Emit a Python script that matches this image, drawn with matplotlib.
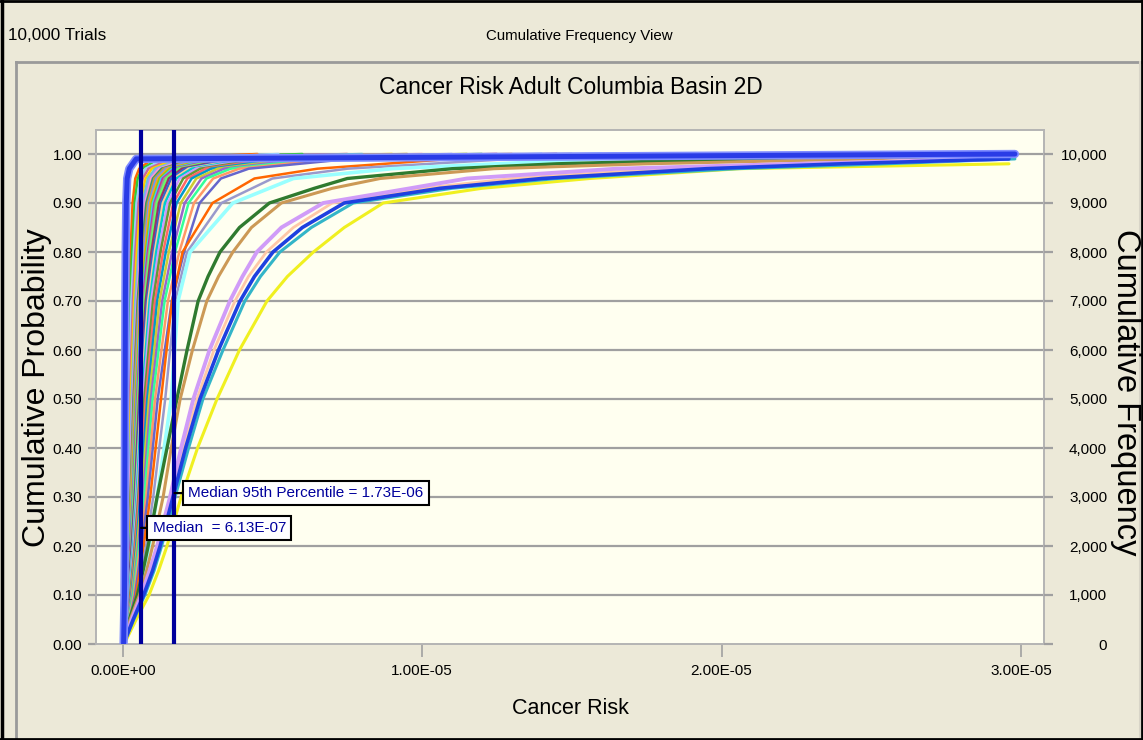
import numpy as np
import matplotlib
matplotlib.use("Agg")
import matplotlib.pyplot as plt
from matplotlib.lines import Line2D

W, H, DPI = 1143, 740, 100

# ---------------------------------------------------------------- data
TRIALS = 10000
MEDIAN = 6.13e-07
P95_MEDIAN = 1.73e-06
SCALE = 1e-6  # risk values below are in units of 1E-06
nan = float("nan")

# cumulative probability levels for the bundle of iterations
PROB_LEVELS = [0.0, 0.1, 0.2, 0.3, 0.5, 0.7, 0.8, 0.9, 0.95, 0.97, 0.99, 1.0]

# risk at each cumulative probability level, one row per uncertainty iteration
bundle_curves = [
    [0.01, 0.05, 0.08, 0.11, 0.15, 0.21, 0.26, 0.33, 0.42, 0.55, 1.0, 4.5],
    [0.01, 0.06, 0.10, 0.13, 0.18, 0.25, 0.31, 0.40, 0.50, 0.65, 1.2, 6.0],
    [0.02, 0.07, 0.12, 0.15, 0.21, 0.29, 0.37, 0.46, 0.59, 0.76, 1.4, 5.2],
    [0.02, 0.08, 0.13, 0.17, 0.24, 0.34, 0.42, 0.53, 0.67, 0.86, 1.6, 7.5],
    [0.02, 0.09, 0.15, 0.19, 0.27, 0.38, 0.47, 0.59, 0.76, 0.97, 1.8, 9.0],
    [0.02, 0.10, 0.17, 0.22, 0.30, 0.42, 0.53, 0.66, 0.84, 1.08, 2.0, 8.0],
    [0.02, 0.11, 0.18, 0.23, 0.32, 0.45, 0.56, 0.70, 0.90, 1.15, 2.1, 11.0],
    [0.02, 0.12, 0.19, 0.24, 0.34, 0.48, 0.60, 0.75, 0.95, 1.22, 2.2, 10.0],
    [0.02, 0.13, 0.20, 0.26, 0.36, 0.50, 0.63, 0.79, 1.01, 1.30, 2.4, 12.0],
    [0.02, 0.13, 0.21, 0.27, 0.38, 0.53, 0.67, 0.84, 1.06, 1.37, 2.5, 9.5],
    [0.03, 0.14, 0.22, 0.29, 0.40, 0.56, 0.70, 0.88, 1.12, 1.44, 2.6, 14.0],
    [0.03, 0.15, 0.23, 0.30, 0.42, 0.59, 0.74, 0.92, 1.18, 1.51, 2.8, 13.0],
    [0.03, 0.15, 0.24, 0.32, 0.44, 0.62, 0.77, 0.97, 1.23, 1.58, 2.9, 11.5],
    [0.03, 0.16, 0.25, 0.33, 0.46, 0.64, 0.81, 1.01, 1.29, 1.66, 3.0, 16.0],
    [0.03, 0.17, 0.26, 0.35, 0.48, 0.67, 0.84, 1.06, 1.34, 1.73, 3.2, 12.5],
    [0.03, 0.18, 0.28, 0.36, 0.50, 0.70, 0.88, 1.10, 1.40, 1.80, 3.3, 15.0],
    [0.03, 0.18, 0.29, 0.37, 0.52, 0.73, 0.91, 1.14, 1.46, 1.87, 3.4, 18.0],
    [0.03, 0.19, 0.30, 0.40, 0.55, 0.77, 0.96, 1.21, 1.54, 1.98, 3.6, 14.5],
    [0.04, 0.20, 0.32, 0.42, 0.58, 0.81, 1.02, 1.28, 1.62, 2.09, 3.8, 17.0],
    [0.04, 0.21, 0.34, 0.44, 0.61, 0.85, 1.07, 1.34, 1.71, 2.20, 4.0, 20.0],
    [0.04, 0.22, 0.35, 0.46, 0.64, 0.90, 1.12, 1.41, 1.79, 2.30, 4.2, 16.5],
    [0.04, 0.24, 0.37, 0.49, 0.68, 0.95, 1.19, 1.50, 1.90, 2.45, 4.4, 19.0],
    [0.04, 0.25, 0.40, 0.52, 0.72, 1.01, 1.26, 1.58, 2.02, 2.59, 4.7, 22.0],
    [0.04, 0.27, 0.42, 0.55, 0.77, 1.08, 1.35, 1.69, 2.16, 2.77, 5.0, 18.5],
    [0.05, 0.29, 0.45, 0.59, 0.82, 1.15, 1.44, 1.80, 2.30, 2.95, 5.3, 24.0],
    [0.05, 0.31, 0.48, 0.63, 0.88, 1.23, 1.54, 1.94, 2.46, 3.17, 5.7, 21.0],
    [0.05, 0.33, 0.52, 0.68, 0.94, 1.32, 1.65, 2.07, 2.63, 3.38, 6.1, 26.0],
    [0.05, 0.35, 0.55, 0.72, 1.00, 1.40, 1.75, 2.20, 2.80, 3.60, 6.5, 23.0],
    [0.05, 0.38, 0.59, 0.78, 1.08, 1.51, 1.89, 2.38, 3.02, 3.89, 7.0, 27.0],
    [0.06, 0.41, 0.64, 0.84, 1.17, 1.64, 2.05, 2.57, 3.28, 4.21, 7.6, 25.0],
    [0.06, 0.45, 0.70, 0.92, 1.28, 1.65, 2.00, 3.00, 4.40, 6.50, 11.0, 27.0],
    [0.06, 0.50, 0.78, 1.02, 1.42, 1.75, 2.15, 3.30, 5.00, 7.50, 13.0, 28.0],
    [0.07, 0.56, 0.88, 1.15, 1.62, 1.85, 2.25, 3.68, 5.70, 9.00, 16.0, 29.0],
]
bundle_colors = [
    "#FF6600", "#33CC33", "#99CCFF", "#CC6699", "#FFCC00", "#66CCCC",
    "#9999FF", "#FF99CC", "#339966", "#CC9933", "#6699FF", "#FF9933",
    "#99CC00", "#33CCFF", "#CC3399", "#999999", "#66FF66", "#993366",
    "#3366CC", "#FFCC99", "#00CCCC", "#CC99FF", "#669933", "#FF6666",
    "#0099CC", "#CCCC33", "#9966CC", "#33FF99", "#FF9966", "#6666CC",
    "#FF6600", "#9999CC", "#99FFFF",
]
lowest_curve = [0.03, 0.06, 0.07, 0.07, 0.08, 0.09, 0.10, 0.12, 0.15, 0.22, 0.45, 29.8]

# finer probability levels for the widest iterations
WIDE_LEVELS = [0.0, 0.05, 0.1, 0.15, 0.2, 0.3, 0.4, 0.5, 0.6, 0.7, 0.75, 0.8,
               0.85, 0.9, 0.93, 0.95, 0.97, 0.98, 0.99, 1.0]
green_curve = [0.02, 0.22, 0.49, 0.68, 0.85, 1.15, 1.48, 1.81, 2.15, 2.52, 2.85,
               3.25, 3.9, 4.9, 6.4, 7.5, 11.0, 14.5, 21.0, 28.0]
tan_curve = [0.02, 0.25, 0.56, 0.80, 1.00, 1.35, 1.62, 1.92, 2.33, 2.81, 3.20,
             3.68, 4.3, 5.3, 7.0, 8.6, 12.4, 17.5, 25.0, 29.5]
violet_curve = [0.03, 0.30, 0.62, 0.90, 1.15, 1.58, 1.95, 2.36, 2.90, 3.58, 4.00,
                4.48, 5.3, 6.7, 9.6, 11.5, 16.5, 22.5, 29.5, nan]
pink_curve = [0.03, 0.33, 0.66, 0.95, 1.20, 1.62, 2.02, 2.48, 3.05, 3.75, 4.20,
              4.80, 5.7, 7.0, 10.0, 13.0, 18.0, 22.5, 29.0, nan]
blue_curve = [0.03, 0.35, 0.70, 1.00, 1.25, 1.68, 2.10, 2.58, 3.20, 3.92, 4.40,
              5.02, 6.0, 7.4, 10.6, 14.0, 19.5, 24.0, 29.6, nan]
teal_curve = [0.03, 0.37, 0.74, 1.05, 1.30, 1.75, 2.20, 2.68, 3.35, 4.08, 4.60,
              5.25, 6.3, 7.7, 11.0, 14.5, 20.5, 25.5, 29.8, nan]
yellow_curve = [0.05, 0.45, 0.88, 1.20, 1.48, 1.95, 2.50, 3.15, 3.90, 4.82, 5.50,
                6.37, 7.4, 8.7, 12.0, 15.6, 20.6, 29.6, nan, nan]

X_TICKS = [0.0, 1e-05, 2e-05, 3e-05]
Y_TICKS = [0.0, 0.1, 0.2, 0.3, 0.4, 0.5, 0.6, 0.7, 0.8, 0.9, 1.0]
FREQ_TICKS = [0, 1000, 2000, 3000, 4000, 5000, 6000, 7000, 8000, 9000, 10000]

# ---------------------------------------------------------------- style
plt.rcParams["font.family"] = ["Liberation Sans", "DejaVu Sans"]
BG = "#ECE9D8"
PLOT_BG = "#FFFFF0"
GRID = "#A0A0A0"
NAVY = "#00009C"

fig = plt.figure(figsize=(W / DPI, H / DPI), dpi=DPI, facecolor=BG)


def fx(px):
    return px / W


def fy(py):
    return 1 - py / H


# window frame
def frame_line(x0, y0, x1, y1, color, lw):
    fig.add_artist(Line2D([fx(x0), fx(x1)], [fy(y0), fy(y1)],
                          transform=fig.transFigure, color=color, lw=lw))


frame_line(16, 62, 1143, 62, "#9A9A9A", 2.0)
frame_line(16, 62, 16, 740, "#9A9A9A", 2.0)
frame_line(1140, 62, 1140, 740, "#D8D5C8", 1.5)
frame_line(2, 0, 2, 740, "black", 2.5)
frame_line(0, 0.5, 1143, 0.5, "black", 2.0)
frame_line(1142, 0, 1142, 740, "black", 2.0)
frame_line(0, 739, 1143, 739, "black", 2.0)

fig.text(fx(8), fy(36), f"{TRIALS:,} Trials", ha="left", va="center", fontsize=12.3)
fig.text(fx(579), fy(36), "Cumulative Frequency View", ha="center", va="center",
         fontsize=10.8)
fig.text(fx(571), fy(87), "Cancer Risk Adult Columbia Basin 2D", ha="center",
         va="center", fontsize=16.5)

# ---------------------------------------------------------------- axes
ax_left, ax_right, ax_top, ax_bottom = 96, 1044, 130, 644
ax = fig.add_axes([fx(ax_left), fy(ax_bottom), (ax_right - ax_left) / W,
                   (ax_bottom - ax_top) / H])
ax.set_facecolor(PLOT_BG)

px_per_unit = 29.94  # pixels per 1E-06 of risk
x_lo = -(122.7 - ax_left) / px_per_unit * SCALE
x_hi = (ax_right - 122.7) / px_per_unit * SCALE
y_lo, y_hi = 0.0, (ax_bottom - ax_top) / 490.0
ax.set_xlim(x_lo, x_hi)
ax.set_ylim(y_lo, y_hi)

for y in Y_TICKS[1:]:
    ax.axhline(y, color=GRID, lw=1.6, zorder=1)


def draw_curve(levels, row, color, lw, z):
    vals = np.array(row, dtype=float)
    probs = np.array(levels)
    ok = ~np.isnan(vals)
    ax.plot(vals[ok] * SCALE, probs[ok], color=color, lw=lw, zorder=z,
            solid_joinstyle="round", solid_capstyle="round")


for row, col in zip(bundle_curves, bundle_colors):
    lw = 2.6 if col == "#99FFFF" else 1.8
    draw_curve(PROB_LEVELS, row, col, lw, 2)

draw_curve(WIDE_LEVELS, green_curve, "#2F7A2F", 2.4, 3)
draw_curve(WIDE_LEVELS, tan_curve, "#CC9955", 2.2, 3)
draw_curve(WIDE_LEVELS, yellow_curve, "#F0F020", 2.2, 3)
draw_curve(WIDE_LEVELS, teal_curve, "#33B5C8", 2.2, 3)
draw_curve(WIDE_LEVELS, pink_curve, "#FFC8A8", 2.0, 3)
draw_curve(WIDE_LEVELS, violet_curve, "#D09CF8", 2.8, 3)
draw_curve(WIDE_LEVELS, blue_curve, "#1E40E0", 2.6, 3)
draw_curve(PROB_LEVELS, lowest_curve, "#7F8CFF", 6.0, 4)
draw_curve(PROB_LEVELS, lowest_curve, "#2A3CE6", 3.6, 4)

ax.axvline(MEDIAN, color=NAVY, lw=3, zorder=5)
ax.axvline(P95_MEDIAN, color=NAVY, lw=3, zorder=5)

box = dict(boxstyle="square,pad=0.35", facecolor="white", edgecolor="black", lw=1.5)
ax.annotate(f"Median  = {MEDIAN:.2E}", xy=(MEDIAN, 0.237), xytext=(8.3, 0),
            textcoords="offset points", ha="left", va="center", fontsize=11,
            color=NAVY, bbox=box, zorder=6,
            arrowprops=dict(arrowstyle="-", color="black", lw=1.6,
                            shrinkA=0, shrinkB=0))
ax.annotate(f"Median 95th Percentile = {P95_MEDIAN:.2E}", xy=(P95_MEDIAN, 0.308),
            xytext=(10, 0), textcoords="offset points", ha="left", va="center",
            fontsize=11, color=NAVY, bbox=box, zorder=6,
            arrowprops=dict(arrowstyle="-", color="black", lw=1.6,
                            shrinkA=0, shrinkB=0))

ax.set_xticks(X_TICKS)
ax.set_xticklabels([f"{v:.2E}" for v in X_TICKS], fontsize=11)
ax.set_yticks(Y_TICKS)
ax.set_yticklabels([f"{v:.2f}" for v in Y_TICKS], fontsize=11)
ax.tick_params(axis="x", length=9, width=1.2, color=GRID, pad=5.5)
ax.tick_params(axis="y", length=6, width=1.6, color=GRID, pad=4)
for s in ax.spines.values():
    s.set_color("#B4B4B4")
    s.set_linewidth(1.4)

ax2 = ax.twinx()
ax2.set_ylim(y_lo * TRIALS, y_hi * TRIALS)
ax2.set_yticks(FREQ_TICKS)
ax2.set_yticklabels([f"{v:,}" for v in FREQ_TICKS], fontsize=11)
ax2.tick_params(axis="y", length=6.5, width=1.6, color=GRID, pad=39)
for t in ax2.get_yticklabels():
    t.set_horizontalalignment("right")
for s in ax2.spines.values():
    s.set_visible(False)

fig.text(fx(570), fy(709), "Cancer Risk", ha="center", va="center", fontsize=15.5)
fig.text(fx(37), fy(388), "Cumulative Probability", ha="center", va="center",
         rotation=90, fontsize=23)
fig.text(fx(1125), fy(392), "Cumulative Frequency", ha="center", va="center",
         rotation=-90, fontsize=23.5)

fig.savefig("out.png", dpi=DPI, facecolor=BG)
